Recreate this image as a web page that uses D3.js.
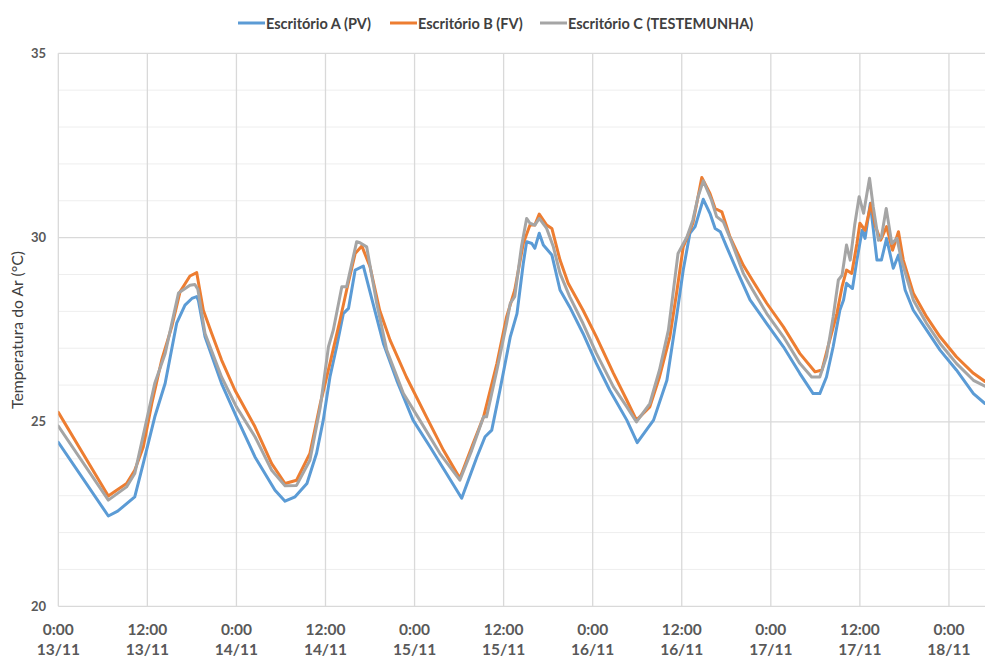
<!DOCTYPE html>
<html>
<head>
<meta charset="utf-8">
<script src="https://cdn.jsdelivr.net/npm/d3@7"></script>
<style>
html,body{margin:0;padding:0;background:#fff;}
svg{display:block;font-family:Lato, "Open Sans", sans-serif;}
</style>
</head>
<body>
<svg id="chart" width="985" height="658"></svg>
<script>
// ---- data (hours since 13/11 0:00, temperature °C) ----
const seriesNames = ["Escritório A (PV)", "Escritório B (FV)", "Escritório C (TESTEMUNHA)"];
const seriesColors = ["#5B9BD5", "#ED7D31", "#A5A5A5"];

const hoursA = [0,6.74,8.0,10.3,11.45,13.0,14.4,15.95,17.07,18.0,18.65,18.87,19.77,22.0,24.0,26.5,29.2,30.55,31.9,33.5,34.8,35.7,36.6,37.5,38.4,39.1,40.0,41.1,42.4,43.8,45.6,47.8,50.1,52.3,54.35,56.4,57.5,58.4,59.5,60.9,61.8,62.65,63.1,63.8,64.2,64.8,65.35,66.5,67.6,68.9,70.7,72.5,74.3,76.6,78.0,80.2,82.0,83.3,84.2,85.1,85.8,86.9,87.8,88.5,89.2,90.05,91.4,93.2,95.45,97.7,99.9,101.7,102.6,103.5,104.4,105.3,105.8,106.2,107.0,107.6,108.3,108.7,109.4,110.3,110.9,111.6,112.5,113.2,114.1,115.2,117.0,118.8,121.0,123.3,124.85];
const tempA  = [24.45,22.45,22.58,22.97,23.88,25.14,26.05,27.68,28.17,28.35,28.4,28.3,27.31,26.04,25.14,24.05,23.15,22.85,22.97,23.33,24.15,25.05,26.22,27.04,27.94,28.08,29.12,29.23,28.22,27.13,26.13,25.05,24.32,23.6,22.93,24.05,24.6,24.78,25.86,27.31,27.94,29.3,29.89,29.84,29.71,30.12,29.8,29.53,28.58,28.12,27.4,26.59,25.86,25.05,24.44,25.05,26.13,27.85,29.12,30.12,30.3,31.04,30.66,30.25,30.16,29.75,29.12,28.31,27.67,27.04,26.32,25.77,25.77,26.22,27.04,28.03,28.31,28.76,28.62,29.39,30.2,29.98,30.93,29.39,29.39,29.98,29.17,29.53,28.58,28.03,27.49,26.95,26.41,25.77,25.5];

const hoursB = [0,6.74,7.86,9.2,10.3,11.45,12.6,13.93,15.28,16.4,17.74,18.65,19.54,20.67,22.0,23.8,26.5,28.75,30.55,32.1,33.9,35.3,36.6,37.95,38.85,40.0,40.9,42.0,43.3,44.7,46.9,49.6,51.9,54.1,55.9,57.3,59.1,60.4,61.5,62.65,63.55,64.2,64.8,65.8,66.5,67.6,68.7,70.7,72.5,74.8,76.6,77.9,79.7,81.0,82.4,83.3,84.2,85.5,86.7,87.8,88.5,89.4,90.5,92.3,93.5,95.45,97.7,99.9,101.95,102.9,103.7,104.9,105.6,106.2,106.9,107.6,108.0,108.7,109.5,110.1,110.8,111.6,112.4,113.2,113.85,115.2,117.0,118.8,121.0,123.3,124.85];
const tempB  = [25.26,22.99,23.15,23.33,23.69,24.32,25.5,26.68,27.58,28.53,28.96,29.05,28.03,27.4,26.68,25.86,24.87,23.87,23.33,23.42,24.15,25.5,26.59,27.76,28.58,29.57,29.77,29.21,28.03,27.22,26.22,25.14,24.23,23.47,24.42,25.14,26.59,27.85,28.58,29.84,30.34,30.34,30.64,30.34,30.25,29.39,28.76,28.03,27.31,26.32,25.59,25.05,25.41,26.22,27.31,28.49,29.75,30.39,31.63,31.2,30.79,30.7,30.02,29.25,28.85,28.22,27.58,26.86,26.36,26.41,27.04,27.94,28.67,29.12,29.03,29.84,30.39,30.2,30.93,30.3,29.93,30.3,29.66,30.16,29.39,28.49,27.85,27.31,26.77,26.32,26.1];

const hoursC = [0,6.74,9.2,10.3,13.0,14.4,16.2,17.74,18.4,18.8,19.77,22.0,24.0,26.5,28.75,30.55,32.1,33.9,35.3,36.4,37.05,38.2,38.85,40.2,40.65,41.55,42.9,44.25,46.5,48.7,51.4,54.1,55.7,57.3,57.7,59.1,60.4,60.9,61.5,62.4,63.1,63.55,64.2,64.8,65.8,66.7,67.6,68.9,70.7,72.5,74.8,76.6,77.9,79.7,81.0,82.2,83.5,84.7,85.5,86.2,86.9,88.0,88.7,89.6,90.7,92.3,93.5,95.45,97.7,99.9,101.5,102.6,103.5,104.4,105.1,105.6,106.2,106.7,107.3,107.9,108.5,109.3,109.8,110.5,110.9,111.55,112.3,113.0,113.6,115.2,117.0,118.8,121.0,123.3,124.85];
const tempC  = [24.89,22.88,23.24,23.6,26.05,26.86,28.5,28.71,28.73,28.6,27.4,26.22,25.41,24.6,23.69,23.27,23.28,23.96,25.41,27.04,27.49,28.67,28.67,29.89,29.86,29.75,28.22,26.95,25.77,25.05,24.15,23.42,24.23,25.14,25.14,26.41,27.67,28.22,28.4,29.75,30.52,30.39,30.34,30.52,30.25,29.75,29.03,28.4,27.67,26.86,25.95,25.41,25.0,25.5,26.41,27.49,29.57,30.02,30.48,31.11,31.54,31.02,30.57,30.43,29.89,29.03,28.6,27.94,27.31,26.59,26.22,26.22,26.77,27.85,28.85,28.98,29.8,29.39,30.34,31.11,30.66,31.61,30.84,29.93,30.02,30.79,29.84,29.98,29.39,28.31,27.67,27.13,26.59,26.13,25.97];

const tickHours = [0,12,24,36,48,60,72,84,96,108,120];
const tickTimeLabels = ["0:00","12:00","0:00","12:00","0:00","12:00","0:00","12:00","0:00","12:00","0:00"];
const tickDateLabels = ["13/11","13/11","14/11","14/11","15/11","15/11","16/11","16/11","17/11","17/11","18/11"];
const yMajorTicks = [20,25,30,35];
const yMinorTicks = [21,22,23,24,26,27,28,29,31,32,33,34];
const yAxisTitle = "Temperatura do Ar (°C)";

// ---- layout ----
const svg = d3.select("#chart");
const plotLeft = 58.3, plotTop = 53.3, plotBottom = 606.3;
const pxPerHour = 7.422;
const x = d3.scaleLinear().domain([0, 125]).range([plotLeft, plotLeft + 125 * pxPerHour]);
const y = d3.scaleLinear().domain([20, 35]).range([plotBottom, plotTop]);

const g = svg.append("g");

// minor gridlines
g.selectAll(".minor").data(yMinorTicks).enter().append("line")
  .attr("x1", plotLeft).attr("x2", 985)
  .attr("y1", d => y(d)).attr("y2", d => y(d))
  .attr("stroke", "#eeeeee").attr("stroke-width", 1);

// major gridlines
g.selectAll(".major").data(yMajorTicks).enter().append("line")
  .attr("x1", plotLeft).attr("x2", 985)
  .attr("y1", d => y(d)).attr("y2", d => y(d))
  .attr("stroke", "#d9d9d9").attr("stroke-width", 1.3);

// vertical gridlines
g.selectAll(".vgrid").data(tickHours).enter().append("line")
  .attr("x1", d => x(d)).attr("x2", d => x(d))
  .attr("y1", plotTop).attr("y2", plotBottom)
  .attr("stroke", "#d9d9d9").attr("stroke-width", 1.3);

// y tick labels
g.selectAll(".ylab").data(yMajorTicks).enter().append("text")
  .attr("x", 46).attr("y", d => y(d) + 4.5)
  .attr("text-anchor", "end")
  .attr("font-size", "13px").attr("font-weight", "bold")
  .attr("fill", "#595959")
  .text(d => d);

// x tick labels
const xl = g.selectAll(".xlab").data(tickHours).enter().append("text")
  .attr("text-anchor", "middle")
  .attr("font-size", "15.5px").attr("font-weight", "bold")
  .attr("fill", "#595959");
xl.append("tspan").attr("x", d => x(d)).attr("y", 635).text((d, i) => tickTimeLabels[i]);
xl.append("tspan").attr("x", d => x(d)).attr("y", 655).text((d, i) => tickDateLabels[i]);

// y axis title
g.append("text")
  .attr("transform", "translate(23,330) rotate(-90)")
  .attr("text-anchor", "middle")
  .attr("font-size", "16px")
  .attr("fill", "#404040")
  .attr("textLength", 158)
  .attr("lengthAdjust", "spacingAndGlyphs")
  .text(yAxisTitle);

// series
const seriesData = [
  hoursA.map((h, i) => [h, tempA[i]]),
  hoursB.map((h, i) => [h, tempB[i]]),
  hoursC.map((h, i) => [h, tempC[i]])
];
const line = d3.line().x(d => x(d[0])).y(d => y(d[1]));
svg.append("clipPath").attr("id", "clip").append("rect")
  .attr("x", plotLeft).attr("y", 0).attr("width", 985 - plotLeft).attr("height", 658);
seriesData.forEach((s, i) => {
  g.append("path").datum(s)
    .attr("d", line)
    .attr("fill", "none")
    .attr("stroke", seriesColors[i])
    .attr("stroke-width", 3)
    .attr("stroke-linejoin", "round")
    .attr("stroke-linecap", "round")
    .attr("clip-path", "url(#clip)");
});

// legend
const legendX = [238, 390, 540];
const lg = g.selectAll(".legend").data(seriesNames).enter().append("g")
  .attr("transform", (d, i) => `translate(${legendX[i]},23)`);
lg.append("line").attr("x1", 0).attr("x2", 27).attr("y1", 0).attr("y2", 0)
  .attr("stroke", (d, i) => seriesColors[i]).attr("stroke-width", 3);
lg.append("text").attr("x", 28).attr("y", 5.5)
  .attr("font-size", "14.5px").attr("font-weight", "bold")
  .attr("fill", "#404040")
  .text(d => d);
</script>
</body>
</html>
